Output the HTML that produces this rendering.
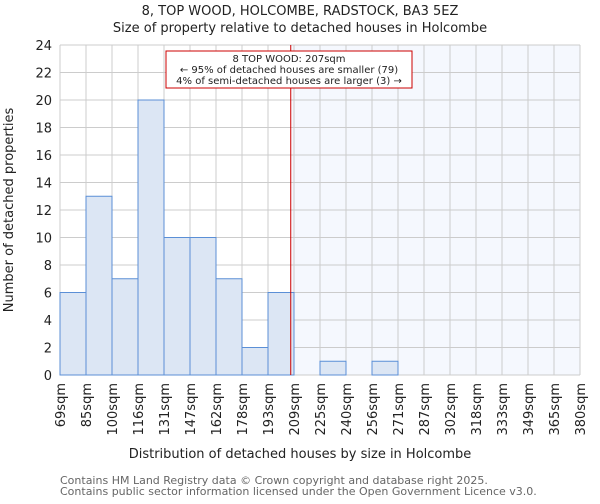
<!DOCTYPE html>
<html><head><meta charset="utf-8"><style>
body{margin:0;background:#fff;font-family:"DejaVu Sans","Liberation Sans",sans-serif}
svg text{font-family:"DejaVu Sans","Liberation Sans",sans-serif}
</style></head><body>
<svg id="c" width="600" height="500">
<text x="300" y="15" text-anchor="middle" font-size="13" fill="#222">8, TOP WOOD, HOLCOMBE, RADSTOCK, BA3 5EZ</text>
<text x="300" y="32" text-anchor="middle" font-size="13" fill="#222">Size of property relative to detached houses in Holcombe</text>
<g id="plot"></g>
<text x="300" y="458" text-anchor="middle" font-size="13" fill="#222">Distribution of detached houses by size in Holcombe</text>
<text transform="translate(13,210) rotate(-90)" text-anchor="middle" font-size="13" fill="#222">Number of detached properties</text>
<text x="60" y="484" font-size="11" fill="#666">Contains HM Land Registry data © Crown copyright and database right 2025.</text>
<text x="60" y="495" font-size="11" fill="#666">Contains public sector information licensed under the Open Government Licence v3.0.</text>
</svg>
<script>
const binEdges=[69,85,100,116,131,147,162,178,193,209,225,240,256,271,287,302,318,333,349,365,380];
const counts=[6,13,7,20,10,10,7,2,6,0,1,0,1,0,0,0,0,0,0,0];
const yTicks=[0,2,4,6,8,10,12,14,16,18,20,22,24];
const propertySize=207;
const X0=60,X1=580,Y0=375,Y1=45,NB=counts.length,E0=69,E1=380;
const bw=(X1-X0)/NB;
const xi=i=>X0+i*bw;
const xv=v=>X0+(v-E0)/(E1-E0)*(X1-X0);
const y=v=>Y0-v/24*(Y0-Y1);
const g=document.getElementById('plot');
const NS='http://www.w3.org/2000/svg';
function mk(t,a){const e=document.createElementNS(NS,t);for(const k in a)e.setAttribute(k,a[k]);g.appendChild(e);return e;}
const px=xv(propertySize);
let e=mk('rect',{x:px,y:Y1,width:X1-px,height:Y0-Y1,fill:'#f5f8fe'});


yTicks.forEach(t=>{
 let l=mk('line',{x1:X0,x2:X1,y1:y(t),y2:y(t),stroke:'#ccc','stroke-width':1});
 
 
 let tx=mk('text',{x:X0-8,y:y(t)+5,'text-anchor':'end','font-size':13,fill:'#222'});
 tx.textContent=t;
 
 
});
binEdges.forEach((b,i)=>{
 let l=mk('line',{x1:xi(i),x2:xi(i),y1:Y1,y2:Y0,stroke:'#ccc','stroke-width':1});
 
 
 let tx=mk('text',{transform:`translate(${xi(i)+5},${Y0+8}) rotate(-90)`,'text-anchor':'end','font-size':13,fill:'#222'});
 tx.textContent=b+'sqm';
 
 
});
counts.forEach((c,i)=>{
 if(!c)return;
 let r=mk('rect',{x:xi(i),y:y(c),width:bw,height:Y0-y(c),fill:'#dce6f4',stroke:'#5b8fd6','stroke-width':1});
 
 
});
e=mk('line',{x1:px,x2:px,y1:Y1,y2:Y0,stroke:'#cc0000','stroke-width':1});


e=mk('rect',{x:166,y:51,width:246,height:37,fill:'#fff',stroke:'#cc0000','stroke-width':1});


['8 TOP WOOD: 207sqm','← 95% of detached houses are smaller (79)','4% of semi-detached houses are larger (3) →'].forEach((s,i)=>{
 let t=mk('text',{x:289,y:62+i*11,'text-anchor':'middle','font-size':10,fill:'#222'});
 t.textContent=s;
 
 
});
</script>
</body></html>
